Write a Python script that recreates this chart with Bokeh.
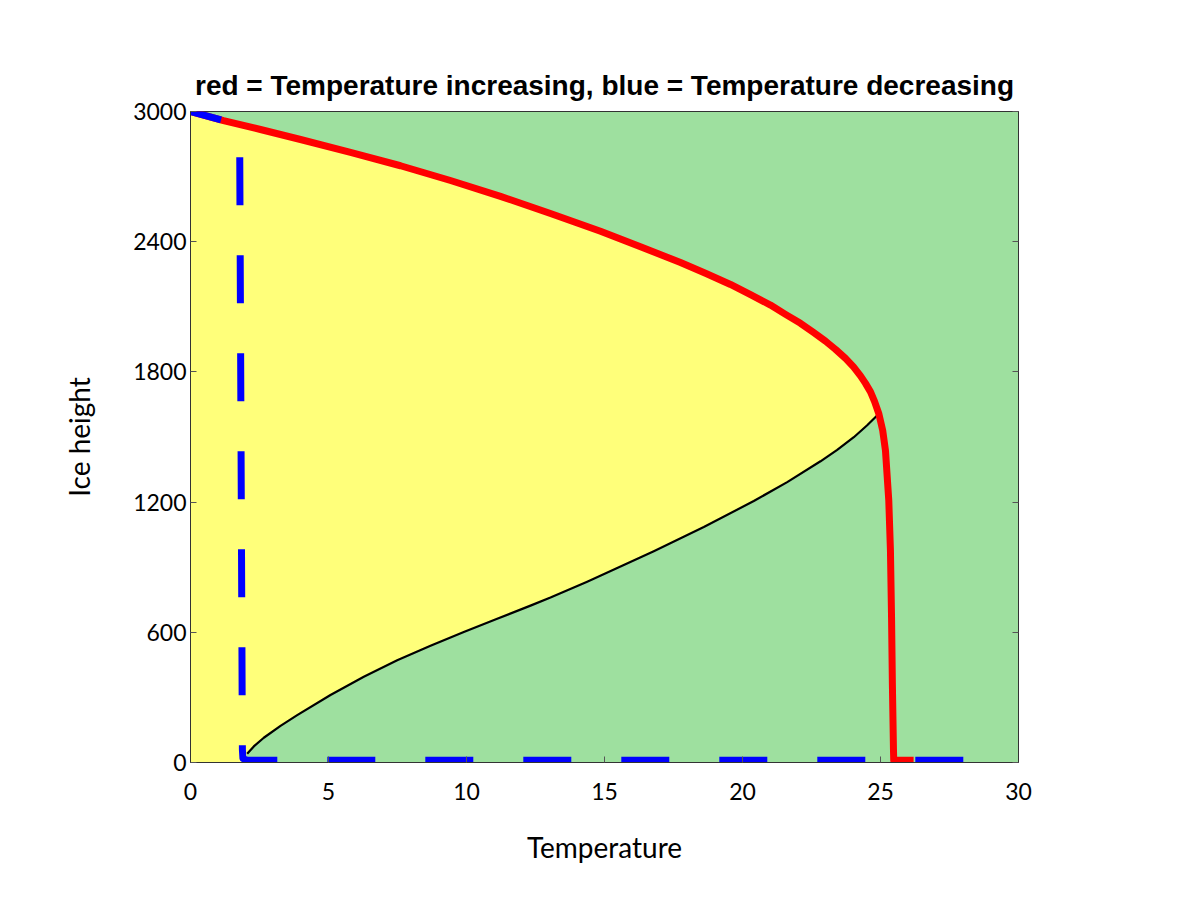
from bokeh.plotting import figure
from bokeh.models import Range1d, FixedTicker, LinearAxis
from bokeh.embed import file_html
from bokeh.resources import INLINE

# ---- data ----
# stable ice branch (temperature increasing, upper part), from T=0 up to the nose
upper_T = [0.0, 1.196, 2.536, 3.986, 5.797, 7.609, 9.420, 11.232, 13.043, 14.855,
           16.304, 17.754, 18.659, 19.565, 20.290, 21.014, 21.558, 22.101, 22.572,
           23.007, 23.370, 23.732, 24.022, 24.275, 24.457, 24.638, 24.783, 24.94]
upper_h = [3000, 2958, 2917, 2871, 2812, 2750, 2682, 2609, 2530, 2448,
           2377, 2304, 2255, 2203, 2156, 2108, 2065, 2024, 1982,
           1942, 1904, 1862, 1823, 1782, 1747, 1708, 1664, 1607]

# warming path after the nose (ice collapses)
warm_T = [25.08, 25.18, 25.30, 25.36, 25.40, 25.43, 25.47, 25.48, 26.2]
warm_h = [1530, 1438, 1207, 977, 670, 364, 60, 10, 10]

# unstable branch (black)
unstable_T = [2.054, 2.293, 2.656, 3.261, 3.866, 5.072, 6.279, 7.489, 8.696, 9.902,
              11.112, 12.319, 13.043, 14.373, 15.580, 16.786, 18.598, 20.409,
              21.620, 22.826, 23.431, 24.033, 24.518, 24.94]
unstable_h = [40, 74, 114, 169, 218, 311, 395, 471, 538, 601,
              662, 723, 760, 833, 903, 974, 1085, 1205,
              1292, 1388, 1441, 1499, 1554, 1607]

# cooling path (blue, temperature decreasing)
cold_T = [28.0, 2.05, 1.9, 1.88, 1.83, 1.78, 1.196, 0.0]
cold_h = [10, 10, 18, 60, 1500, 2927, 2958, 3000]

x_ticks = [0, 5, 10, 15, 20, 25, 30]
y_ticks = [0, 600, 1200, 1800, 2400, 3000]

title_text = "red = Temperature increasing, blue = Temperature decreasing"
x_label = "Temperature"
y_label = "Ice height"

YELLOW = "#FFFF7A"
GREEN = "#9EE09F"

# yellow region: left of the S-shaped equilibrium curve
fill_T = [0.0, 2.0] + unstable_T + upper_T[::-1]
fill_h = [0, 0] + unstable_h + upper_h[::-1]

red_T = upper_T + warm_T
red_h = upper_h + warm_h

p = figure(width=1188, height=880,
           x_range=Range1d(0, 30), y_range=Range1d(0, 3000),
           output_backend="svg", toolbar_location=None,
           min_border_left=190, min_border_right=170,
           min_border_top=111, min_border_bottom=118,
           title=title_text)

p.title.text_font = "Liberation Sans"
p.title.text_font_size = "28px"
p.title.text_font_style = "bold"
p.title.align = "center"
p.title.standoff = 21
p.title.text_color = "black"

p.background_fill_color = GREEN
p.border_fill_color = "white"
p.outline_line_color = "#333333"
p.outline_line_width = 1
p.grid.visible = False

p.patch(fill_T, fill_h, fill_color=YELLOW, line_color=None)
p.line(unstable_T, unstable_h, line_color="black", line_width=2.2, line_join="round")
p.line(red_T, red_h, line_color="#FF0000", line_width=7, line_join="round")
p.line(cold_T, cold_h, line_color="#0000FF", line_width=7, line_dash="48 50",
       line_join="round", line_cap="butt")

for ax in (p.xaxis[0], p.yaxis[0]):
    ax.major_tick_in = 6
    ax.major_tick_out = 0
    ax.minor_tick_line_color = None
    ax.major_tick_line_color = "#555555"
    ax.axis_line_color = "#333333"
    ax.major_label_text_font = "Lato"
    ax.major_label_text_font_size = "23px"
    ax.major_label_text_color = "black"
    ax.axis_label_text_font = "Lato"
    ax.axis_label_text_font_size = "28px"
    ax.axis_label_text_font_style = "normal"
    ax.axis_label_text_color = "black"

p.xaxis[0].ticker = FixedTicker(ticks=x_ticks)
p.yaxis[0].ticker = FixedTicker(ticks=y_ticks)
p.xaxis[0].axis_label = x_label
p.yaxis[0].axis_label = y_label
p.xaxis[0].major_label_standoff = 20
p.xaxis[0].axis_label_standoff = 27
p.yaxis[0].major_label_standoff = 4
p.yaxis[0].axis_label_standoff = 34

right = LinearAxis(ticker=FixedTicker(ticks=y_ticks))
right.major_tick_in = 6
right.major_tick_out = 0
right.minor_tick_line_color = None
right.major_tick_line_color = "#555555"
right.axis_line_color = "#333333"
right.major_label_text_alpha = 0
p.add_layout(right, "right")

open("out.html", "w").write(file_html(p, INLINE))
